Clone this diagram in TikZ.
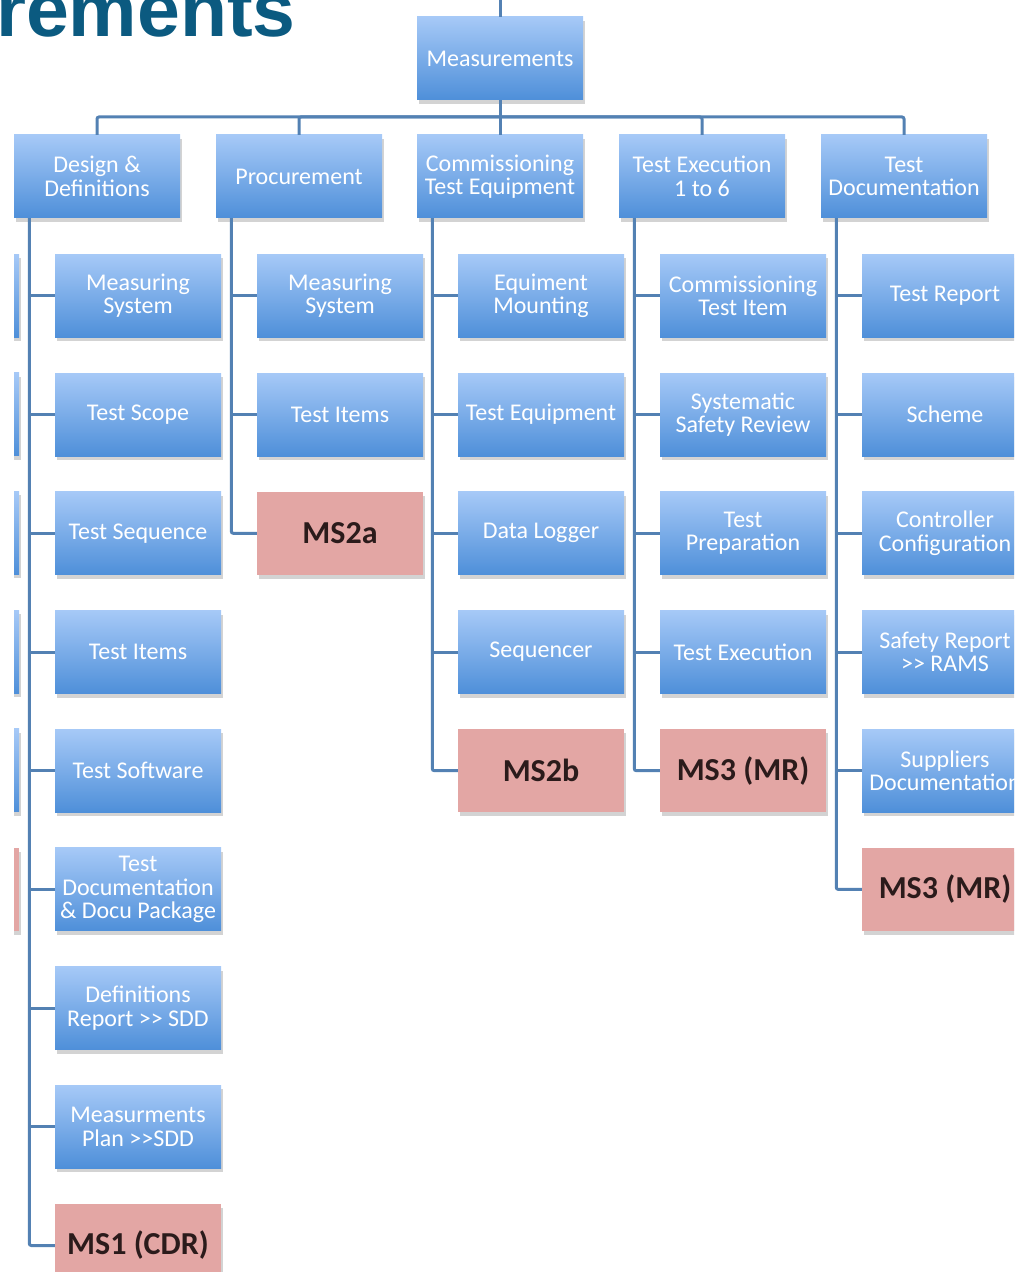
\documentclass[tikz,border=0pt]{standalone}
\usepackage{fontspec}
\setmainfont{Carlito}
\newfontfamily\headfont{Liberation Sans}
\usetikzlibrary{positioning, shadows}
\definecolor{boxtop}{HTML}{A6C9F7}
\definecolor{boxbot}{HTML}{4E8FD9}
\definecolor{msfill}{HTML}{E3A6A4}
\definecolor{msdark}{HTML}{2B1B1B}
\definecolor{linkblue}{HTML}{5381B3}
\definecolor{headblue}{HTML}{0B5A80}

\begin{document}
\begin{tikzpicture}[x=1pt, y=-1pt]
\tikzstyle{box}=[rectangle, minimum width=166pt, minimum height=83pt, inner sep=2pt, align=center, node distance=35.3pt, drop shadow={shadow xshift=1.5pt, shadow yshift=-4pt, opacity=0.35}]
\tikzstyle{item}=[box, top color=boxtop, bottom color=boxbot, text=white, font=\fontsize{24}{23.5}\selectfont]
\tikzstyle{mstone}=[box, fill=msfill, text=msdark, font=\fontsize{32}{32}\selectfont\bfseries]
\tikzstyle{link}=[linkblue, line width=3pt, rounded corners=2pt]
\useasboundingbox (0,0) rectangle (1014,1273);
\begin{scope}
\clip (14,0) rectangle (1014,1271);
% top level
\node[item] (meas) at (500,58.5) {Measurements};
\node[item] (dd) at (97,176.5) {Design \&\\Definitions};
\node[item] (proc) at (299,176.5) {Procurement};
\node[item] (comm) at (500,176.5) {Commissioning\\Test Equipment};
\node[item] (exec) at (702,176.5) {Test Execution\\1 to 6};
\node[item] (doc) at (904,176.5) {Test\\Documentation};
% column cut off on the left
\node[item] (prev1) at (-64,295.5) {};
\node[item] (prev2) [below=of prev1] {};
\node[item] (prev3) [below=of prev2] {};
\node[item] (prev4) [below=of prev3] {};
\node[item] (prev5) [below=of prev4] {};
\node[mstone] (prev6) [below=of prev5] {};
% design & definitions
\node[item] (dd1) [below=36pt of dd, xshift=41pt] {Measuring\\System};
\node[item] (dd2) [below=of dd1] {Test Scope};
\node[item] (dd3) [below=of dd2] {Test Sequence};
\node[item] (dd4) [below=of dd3] {Test Items};
\node[item] (dd5) [below=of dd4] {Test Software};
\node[item] (dd6) [below=of dd5] {Test\\Documentation\\\& Docu Package};
\node[item] (dd7) [below=of dd6] {Definitions\\Report >{}> SDD};
\node[item] (dd8) [below=of dd7] {Measurments\\Plan >{}>SDD};
\node[mstone] (dd9) [below=of dd8] {MS1 (CDR)};
% procurement
\node[item] (proc1) [below=36pt of proc, xshift=41pt] {Measuring\\System};
\node[item] (proc2) [below=of proc1] {Test Items};
\node[mstone] (proc3) [below=of proc2] {MS2a};
% commissioning
\node[item] (comm1) [below=36pt of comm, xshift=41pt] {Equiment\\Mounting};
\node[item] (comm2) [below=of comm1] {Test Equipment};
\node[item] (comm3) [below=of comm2] {Data Logger};
\node[item] (comm4) [below=of comm3] {Sequencer};
\node[mstone] (comm5) [below=of comm4] {MS2b};
% test execution
\node[item] (exec1) [below=36pt of exec, xshift=41pt] {Commissioning\\Test Item};
\node[item] (exec2) [below=of exec1] {Systematic\\Safety Review};
\node[item] (exec3) [below=of exec2] {Test\\Preparation};
\node[item] (exec4) [below=of exec3] {Test Execution};
\node[mstone] (exec5) [below=of exec4] {MS3 (MR)};
% test documentation
\node[item] (doc1) [below=36pt of doc, xshift=41pt] {Test Report};
\node[item] (doc2) [below=of doc1] {Scheme};
\node[item] (doc3) [below=of doc2] {Controller\\Configuration};
\node[item] (doc4) [below=of doc3] {Safety Report\\>{}> RAMS};
\node[item] (doc5) [below=of doc4] {Suppliers\\Documentation};
\node[mstone] (doc6) [below=of doc5] {MS3 (MR)};
% bus
\coordinate (up) at (500,0);
\coordinate (bus) at (500,117);
\draw[link] (meas) -- (up);
\draw[link] (meas) -- (bus);
\draw[link] (dd.north) |- (bus);
\draw[link] (proc.north) |- (bus);
\draw[link] (comm.north) -- (bus);
\draw[link] (exec.north) |- (bus);
\draw[link] (doc.north) |- (bus);
% spines
\coordinate (ddspine) at ([xshift=15.5pt]dd.south west);
\coordinate (procspine) at ([xshift=15.5pt]proc.south west);
\coordinate (commspine) at ([xshift=15.5pt]comm.south west);
\coordinate (execspine) at ([xshift=15.5pt]exec.south west);
\coordinate (docspine) at ([xshift=15.5pt]doc.south west);
\draw[link] (ddspine) |- (dd9);
\draw[link] (procspine) |- (proc3);
\draw[link] (commspine) |- (comm5);
\draw[link] (execspine) |- (exec5);
\draw[link] (docspine) |- (doc6);
\path (ddspine |- dd1) edge[link] (dd1)
      (ddspine |- dd2) edge[link] (dd2)
      (ddspine |- dd3) edge[link] (dd3)
      (ddspine |- dd4) edge[link] (dd4)
      (ddspine |- dd5) edge[link] (dd5)
      (ddspine |- dd6) edge[link] (dd6)
      (ddspine |- dd7) edge[link] (dd7)
      (ddspine |- dd8) edge[link] (dd8)
      (procspine |- proc1) edge[link] (proc1)
      (procspine |- proc2) edge[link] (proc2)
      (commspine |- comm1) edge[link] (comm1)
      (commspine |- comm2) edge[link] (comm2)
      (commspine |- comm3) edge[link] (comm3)
      (commspine |- comm4) edge[link] (comm4)
      (execspine |- exec1) edge[link] (exec1)
      (execspine |- exec2) edge[link] (exec2)
      (execspine |- exec3) edge[link] (exec3)
      (execspine |- exec4) edge[link] (exec4)
      (docspine |- doc1) edge[link] (doc1)
      (docspine |- doc2) edge[link] (doc2)
      (docspine |- doc3) edge[link] (doc3)
      (docspine |- doc4) edge[link] (doc4)
      (docspine |- doc5) edge[link] (doc5);
\end{scope}
\node[anchor=base west, inner sep=0pt, text=headblue, font=\headfont\bfseries\fontsize{77}{77}\selectfont] (head) at (-4,37) {rements};
\end{tikzpicture}
\end{document}
